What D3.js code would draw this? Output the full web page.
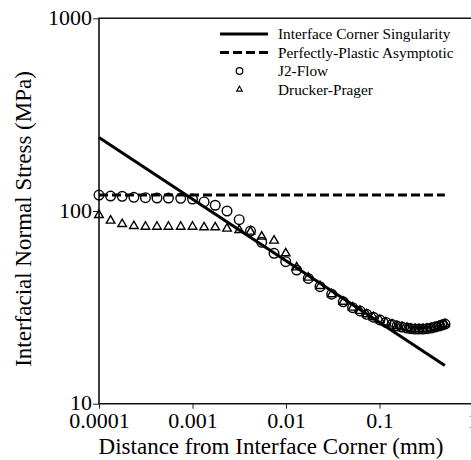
<!DOCTYPE html>
<html>
<head>
<meta charset="utf-8">
<script src="https://cdn.jsdelivr.net/npm/d3@7"></script>
<style>
  body { margin: 0; background: #fff; }
</style>
</head>
<body>
<div id="vis"></div>
<script>
// tick labels
var xTicks = [0.0001, 0.001, 0.01, 0.1, 1];
var yTicks = [10, 100, 1000];

// distance from corner (mm), shared by both FE series
var distance = [0.0001, 0.000133, 0.000177, 0.000236, 0.000314, 0.000417, 0.000553, 0.000748,
  0.001, 0.00133, 0.00175, 0.00234, 0.00316, 0.00417, 0.0055, 0.00745, 0.00993, 0.013,
  0.0173, 0.0231, 0.0308, 0.041, 0.0516, 0.0618, 0.073, 0.086, 0.101, 0.117, 0.136, 0.154,
  0.174, 0.197, 0.217, 0.24, 0.264, 0.292, 0.322, 0.356, 0.393, 0.433, 0.466, 0.502];
var j2Flow = [121, 119.6, 119.1, 117.8, 117.3, 116.8, 116.8, 116.4,
  115.4, 111.4, 107.1, 100, 90.1, 78.7, 68.8, 60.3, 54.6, 49.4,
  44.7, 40.5, 37.0, 33.8, 31.5, 30.3, 29.1, 28.1, 27.2, 26.4, 25.8, 25.3,
  25.0, 24.7, 24.5, 24.4, 24.4, 24.4, 24.5, 24.7, 25.0, 25.3, 25.6, 25.9];
var druckerPrager = [95.3, 89.1, 85.6, 83.6, 82.9, 82.9, 82.9, 82.9,
  82.9, 82.3, 82.3, 81.0, 79.7, 78.1, 73.6, 70.2, 60.3, 51.0,
  45.1, 40.8, 37.0, 33.8, 31.5, 30.3, 29.1, 28.1, 27.2, 26.4, 25.8, 25.3,
  25.0, 24.7, 24.5, 24.4, 24.4, 24.4, 24.5, 24.7, 25.0, 25.3, 25.6, 25.9];

// analytic curves
var singX = [0.0001, 0.5];
var singY = [241, 15.8];
var plasticX = [0.0001, 0.5];
var plasticY = [121, 121];

var legendLabels = ["Interface Corner Singularity", "Perfectly-Plastic Asymptotic", "J2-Flow", "Drucker-Prager"];

var FONT = '"Liberation Serif", "DejaVu Serif", serif';
var W = 471, H = 460;
var svg = d3.select('#vis').append('svg').attr('width', W).attr('height', H)
  .attr('font-family', FONT);

var x = d3.scaleLog().domain([0.0001, 1]).range([99, 473]);
var y = d3.scaleLog().domain([10, 1000]).range([403.7, 18.3]);

// minor ticks
var xMinor = [], yMinor = [];
for (var e = -4; e < 0; e++) for (var m = 2; m < 10; m++) xMinor.push(m * Math.pow(10, e));
for (var e2 = 1; e2 < 3; e2++) for (var m2 = 2; m2 < 10; m2++) yMinor.push(m2 * Math.pow(10, e2));

var gx = svg.append('g').attr('transform', 'translate(0,403.7)');
gx.call(d3.axisBottom(x).tickValues(xMinor).tickSize(3).tickFormat(''));
gx.call(d3.axisBottom(x).tickValues(xTicks).tickSize(5).tickPadding(4)
  .tickFormat(function(d) { return String(d); }));
gx.attr('font-family', FONT).attr('font-size', 22);
gx.selectAll('path.domain').remove();

var gy = svg.append('g').attr('transform', 'translate(99,0)');
gy.call(d3.axisLeft(y).tickValues(yMinor).tickSize(3).tickFormat(''));
gy.call(d3.axisLeft(y).tickValues(yTicks).tickSize(6).tickPadding(1)
  .tickFormat(function(d) { return String(d); }));
gy.attr('font-family', FONT).attr('font-size', 22);
gy.selectAll('path.domain').remove();
gy.selectAll('.tick text').attr('dy', '0.28em');
svg.selectAll('.tick line').attr('stroke', '#222').attr('stroke-width', 1);
svg.selectAll('.tick text').attr('fill', '#000');

// frame
svg.append('path')
  .attr('d', 'M' + x(1) + ',' + y(1000) + 'H' + x(0.0001) + 'V' + y(10) + 'H' + x(1))
  .attr('fill', 'none').attr('stroke', '#111').attr('stroke-width', 1.6);

var line = d3.line().x(function(d) { return x(d[0]); }).y(function(d) { return y(d[1]); });

svg.append('path')
  .attr('d', line(d3.zip(singX, singY)))
  .attr('fill', 'none').attr('stroke', '#000').attr('stroke-width', 3);

svg.append('path')
  .attr('d', line(d3.zip(plasticX, plasticY)))
  .attr('fill', 'none').attr('stroke', '#000').attr('stroke-width', 3)
  .attr('stroke-dasharray', '9,4');

svg.selectAll('circle.j2')
  .data(d3.zip(distance, j2Flow)).enter().append('circle')
  .attr('class', 'j2')
  .attr('cx', function(d) { return x(d[0]); })
  .attr('cy', function(d) { return y(d[1]); })
  .attr('r', 4.8)
  .attr('fill', 'none').attr('stroke', '#000').attr('stroke-width', 1.4);

var tri = d3.symbol().type(d3.symbolTriangle).size(32);
svg.selectAll('path.dp')
  .data(d3.zip(distance, druckerPrager)).enter().append('path')
  .attr('class', 'dp')
  .attr('d', tri)
  .attr('transform', function(d) { return 'translate(' + x(d[0]) + ',' + y(d[1]) + ')'; })
  .attr('fill', 'none').attr('stroke', '#000').attr('stroke-width', 1.4);

// legend
var lg = svg.append('g').attr('transform', 'translate(220,34)');
var rowH = 18.5;
lg.append('line').attr('x1', 0).attr('x2', 48).attr('y1', 0).attr('y2', 0)
  .attr('stroke', '#000').attr('stroke-width', 3);
lg.append('line').attr('x1', 0).attr('x2', 48).attr('y1', rowH).attr('y2', rowH)
  .attr('stroke', '#000').attr('stroke-width', 3).attr('stroke-dasharray', '9,4');
lg.append('circle').attr('cx', 19.5).attr('cy', rowH * 2).attr('r', 3.3)
  .attr('fill', 'none').attr('stroke', '#000').attr('stroke-width', 1.2);
lg.append('path').attr('d', d3.symbol().type(d3.symbolTriangle).size(14))
  .attr('transform', 'translate(19.5,' + (rowH * 3) + ')')
  .attr('fill', 'none').attr('stroke', '#000').attr('stroke-width', 1.1);
lg.selectAll('text.lab')
  .data(legendLabels).enter().append('text')
  .attr('class', 'lab')
  .attr('x', 58)
  .attr('y', function(d, i) { return i * rowH + 5; })
  .attr('font-size', 15.3)
  .text(function(d) { return d; });

// axis titles
svg.append('text')
  .attr('x', 271).attr('y', 454)
  .attr('text-anchor', 'middle')
  .attr('font-size', 23)
  .text('Distance from Interface Corner (mm)');

svg.append('text')
  .attr('transform', 'translate(31,219) rotate(-90)')
  .attr('text-anchor', 'middle')
  .attr('font-size', 23)
  .text('Interfacial Normal Stress (MPa)');
</script>
</body>
</html>
